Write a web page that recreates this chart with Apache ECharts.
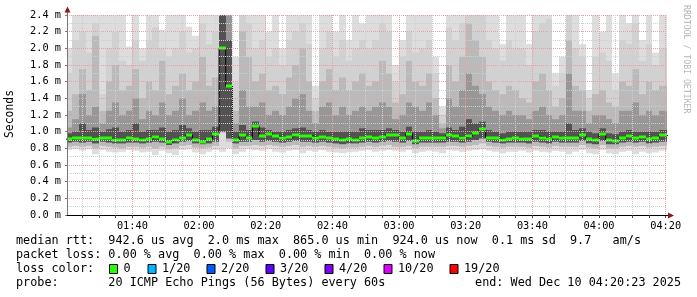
<!DOCTYPE html>
<html><head><meta charset="utf-8">
<script src="https://cdn.jsdelivr.net/npm/echarts@6/dist/echarts.min.js"></script>
<style>html,body{margin:0;padding:0;background:#fff}#c{width:697px;height:297px}</style>
</head><body><div id="c"></div>
<script>
// time: minutes after midnight; buckets of 2 minutes from 01:20
const startMinute = 80;
const stepMinutes = 2;
const axisMin = 80 + 23 / 60;   // 01:20:23
const axisMax = 260 + 23 / 60;  // 04:20:23

const xTickMinutes = [100, 120, 140, 160, 180, 200, 220, 240, 260];
const xTickLabels = ['01:40', '02:00', '02:20', '02:40', '03:00', '03:20', '03:40', '04:00', '04:20'];

// values in ms
const medianRtt = [0.91,0.924,0.93,0.93,0.916,0.924,0.92,0.90,0.905,0.92,
0.915,0.905,0.915,0.936,0.91,0.875,0.896,0.93,0.96,0.905,
0.88,0.91,0.975,2.0,1.55,0.905,0.955,0.93,1.07,0.95,
0.975,0.945,0.93,0.936,0.96,0.948,0.948,0.93,0.935,0.92,
0.916,0.9,0.912,0.905,0.93,0.935,0.928,0.935,0.964,0.955,
0.92,0.975,0.888,0.93,0.93,0.93,0.92,0.955,0.945,0.925,
0.945,0.99,1.028,0.93,0.926,0.905,0.916,0.925,0.916,0.91,
0.948,0.93,0.91,0.94,0.925,0.925,0.93,0.96,0.915,0.895,
0.975,0.895,0.89,0.93,0.95,0.92,0.94,0.915,0.924,0.955];

const pingMax = [2.0,2.4,2.4,2.4,2.4,2.4,2.4,2.4,2.4,2.02,
2.4,2.0,2.4,2.4,2.22,2.4,2.4,2.4,2.26,2.15,
2.4,2.4,2.4,2.4,2.4,1.9,2.4,2.4,2.4,2.4,
2.2,2.4,2.0,2.4,2.4,2.4,2.4,1.55,2.4,2.4,
2.2,2.4,2.1,2.4,2.3,2.4,2.4,2.4,2.4,1.8,
2.1,2.4,2.4,2.4,2.4,1.9,1.3,2.4,2.4,2.4,
2.4,2.4,2.4,2.4,2.4,2.05,2.4,2.4,2.4,2.05,
2.4,2.4,2.4,1.7,1.9,2.4,2.4,2.05,1.5,2.4,
2.2,2.4,1.7,2.4,2.3,2.4,2.1,2.4,1.95,2.4];

const pingUpper2 = [1.7,2.1,2.2,1.95,2.3,1.45,2.0,2.2,1.85,1.8,
2.1,1.85,2.1,2.25,2.0,1.9,2.0,2.2,1.95,2.0,
2.3,2.05,2.2,2.4,2.4,1.6,2.4,2.3,2.0,2.1,
1.9,2.0,1.8,2.1,2.2,2.3,2.05,1.4,2.0,2.2,
1.9,2.1,1.85,2.0,2.1,2.0,2.1,2.3,2.2,1.6,
1.9,2.2,1.95,2.0,2.1,1.7,1.2,2.25,2.1,2.3,
2.4,2.4,2.4,2.1,2.0,1.85,2.1,2.0,2.0,1.8,
2.2,2.3,2.35,1.55,1.7,2.4,2.0,1.9,1.4,1.9,
1.95,1.85,1.5,2.1,2.05,2.3,1.85,2.05,1.8,2.0];

const pingUpper3 = [1.25,1.45,1.75,1.5,2.15,1.25,1.6,1.8,1.5,1.55,
1.75,1.4,1.6,1.5,1.85,1.45,1.55,1.7,1.5,1.6,
1.9,1.55,1.65,2.4,2.4,1.25,2.2,1.9,1.6,1.7,
1.5,1.55,1.45,1.65,1.8,2.0,1.6,1.25,1.6,1.75,
1.5,1.65,1.5,1.6,1.7,1.55,1.6,1.85,1.7,1.35,
1.45,1.85,1.6,1.55,1.7,1.4,1.1,1.8,1.6,1.9,
2.3,2.1,1.9,1.6,1.5,1.45,1.55,1.5,1.4,1.35,
1.6,1.7,1.5,1.3,1.4,2.1,1.55,1.5,1.25,1.45,
1.5,1.35,1.3,1.6,1.55,1.75,1.45,1.6,1.5,1.55];

const pingUpper4 = [1.05,1.15,1.45,1.2,1.3,1.1,1.25,1.35,1.2,1.25,
1.4,1.15,1.25,1.2,1.35,1.2,1.25,1.4,1.2,1.25,
1.35,1.25,1.3,2.4,2.4,1.1,1.5,1.3,1.3,1.35,
1.2,1.25,1.2,1.3,1.4,1.45,1.25,1.1,1.3,1.35,
1.2,1.3,1.2,1.25,1.3,1.25,1.3,1.35,1.3,1.15,
1.2,1.35,1.3,1.25,1.35,1.2,1.04,1.4,1.3,1.5,
1.7,1.55,1.45,1.3,1.25,1.2,1.25,1.2,1.2,1.15,
1.25,1.3,1.2,1.15,1.2,1.7,1.25,1.25,1.1,1.2,
1.2,1.15,1.1,1.25,1.25,1.35,1.2,1.25,1.2,1.25];

const pingUpper5 = [0.98,1.0,1.1,1.02,1.05,1.0,1.03,1.05,1.0,1.02,
1.1,1.0,1.02,1.02,1.05,1.0,1.02,1.08,1.04,1.0,
1.02,1.02,1.06,2.4,2.1,1.0,1.08,1.02,1.12,1.05,
1.02,1.0,1.0,1.02,1.04,1.05,1.02,1.0,1.02,1.0,
1.0,1.0,1.0,1.0,1.04,1.02,1.02,1.02,1.04,1.02,
1.0,1.06,1.0,1.0,1.02,1.0,0.98,1.05,1.02,1.06,
1.15,1.1,1.12,1.02,1.0,0.98,1.0,1.0,1.0,1.0,
1.02,1.02,1.0,1.0,1.0,1.1,1.02,1.04,1.0,0.98,
1.04,0.98,0.97,1.0,1.02,1.0,1.0,1.0,1.0,1.02];

const pingLower3 = [0.87,0.88,0.87,0.88,0.86,0.88,0.87,0.86,0.86,0.87,
0.87,0.86,0.87,0.88,0.87,0.84,0.86,0.88,0.89,0.86,
0.85,0.86,0.88,1.0,0.92,0.86,0.88,0.88,0.9,0.88,
0.89,0.88,0.87,0.88,0.89,0.88,0.88,0.87,0.88,0.87,
0.86,0.85,0.86,0.86,0.87,0.88,0.87,0.88,0.89,0.88,
0.87,0.89,0.85,0.87,0.87,0.87,0.87,0.88,0.88,0.87,
0.88,0.9,0.92,0.88,0.87,0.86,0.87,0.87,0.87,0.86,
0.88,0.87,0.86,0.88,0.87,0.87,0.87,0.89,0.86,0.85,
0.89,0.85,0.85,0.87,0.88,0.87,0.88,0.86,0.87,0.88];

const pingLower2 = [0.82,0.83,0.82,0.83,0.8,0.83,0.82,0.81,0.8,0.82,
0.82,0.81,0.82,0.8,0.82,0.79,0.8,0.83,0.84,0.81,
0.8,0.81,0.83,0.99,0.88,0.8,0.83,0.83,0.84,0.83,
0.84,0.83,0.82,0.83,0.84,0.82,0.83,0.82,0.83,0.82,
0.81,0.8,0.81,0.81,0.82,0.83,0.82,0.83,0.84,0.82,
0.82,0.83,0.8,0.82,0.82,0.82,0.82,0.83,0.83,0.82,
0.83,0.84,0.86,0.83,0.82,0.81,0.82,0.82,0.82,0.81,
0.83,0.82,0.81,0.83,0.82,0.82,0.82,0.84,0.81,0.8,
0.84,0.8,0.8,0.82,0.83,0.82,0.83,0.81,0.82,0.83];

const pingMin = [0.78,0.79,0.77,0.79,0.73,0.78,0.76,0.75,0.76,0.78,
0.77,0.75,0.76,0.72,0.77,0.74,0.72,0.78,0.79,0.75,
0.73,0.76,0.78,0.76,0.8,0.73,0.76,0.79,0.78,0.77,
0.79,0.76,0.75,0.77,0.78,0.74,0.77,0.76,0.78,0.76,
0.75,0.74,0.75,0.76,0.77,0.78,0.76,0.77,0.78,0.77,
0.76,0.78,0.74,0.76,0.77,0.76,0.74,0.78,0.77,0.76,
0.77,0.78,0.79,0.77,0.76,0.74,0.76,0.76,0.77,0.75,
0.77,0.76,0.75,0.77,0.76,0.73,0.76,0.78,0.74,0.73,
0.78,0.74,0.73,0.76,0.77,0.73,0.76,0.74,0.75,0.77];

const lossLabels = ['0', '1/20', '2/20', '3/20', '4/20', '10/20', '19/20'];
const lossColors = ['#26ff00', '#00b8ff', '#0059ff', '#5e00ff', '#7e00ff', '#dd00ff', '#ff0000'];

const legendLines = [
  'median rtt:  942.6 us avg  2.0 ms max  865.0 us min  924.0 us now  0.1 ms sd  9.7   am/s',
  'packet loss: 0.00 % avg  0.00 % max  0.00 % min  0.00 % now',
  'loss color:',
  'probe:       20 ICMP Echo Pings (56 Bytes) every 60s'
];
const endLabel = 'end: Wed Dec 10 04:20:23 2025';

// ---- build tables ----
const layerColors = ['#dddddd', '#d1d1d1', '#bababa', '#979797', '#525252'];
const smokeData = medianRtt.map((m, k) => {
  const t0 = startMinute + k * stepMinutes;
  const t1 = k === medianRtt.length - 1 ? axisMax + 1 : t0 + stepMinutes;
  return [t0, t1,
    pingMin[k], pingMax[k],
    pingLower2[k], pingUpper2[k],
    pingLower2[k], pingUpper3[k],
    pingLower3[k], pingUpper4[k],
    pingLower3[k], pingUpper5[k]];
});
const medianData = medianRtt.map((m, k) => {
  const t0 = startMinute + k * stepMinutes;
  const t1 = k === medianRtt.length - 1 ? axisMax + 1 : t0 + stepMinutes;
  return [t0, t1, m];
});
const stepLine = medianRtt.map((m, k) => [startMinute + k * stepMinutes, m]);
stepLine.push([axisMax + 1, medianRtt[medianRtt.length - 1]]);

const minorTicks = [];
for (let t = 85; t <= 260; t += 5) minorTicks.push(t);

function clampX(x, cs) { return Math.max(cs.x, Math.min(cs.x + cs.width, x)); }

function renderSmoke(params, api) {
  const cs = params.coordSys;
  const x0 = Math.round(clampX(api.coord([api.value(0), 0])[0], cs));
  const x1 = Math.round(clampX(api.coord([api.value(1), 0])[0], cs));
  const children = [];
  for (let i = 0; i < layerColors.length; i++) {
    const lo = api.value(2 + 2 * i), hi = api.value(3 + 2 * i);
    const yTop = api.coord([0, Math.min(hi, 2.4)])[1];
    const yBot = api.coord([0, lo])[1];
    children.push({type: 'rect', shape: {x: x0, y: yTop, width: x1 - x0, height: yBot - yTop},
      style: {fill: layerColors[i]}});
  }
  return {type: 'group', children};
}
function renderMedian(params, api) {
  const cs = params.coordSys;
  const x0 = Math.round(clampX(api.coord([api.value(0), 0])[0], cs));
  const x1 = Math.round(clampX(api.coord([api.value(1), 0])[0], cs));
  const y = api.coord([0, api.value(2)])[1];
  return {type: 'rect', shape: {x: x0, y: Math.round(y) - 1.5, width: x1 - x0, height: 3},
    style: {fill: lossColors[0]}};
}

const chart = echarts.init(document.getElementById('c'), null, {renderer: 'canvas'});
const monoSmall = '"DejaVu Sans Mono", monospace';
const legendFont = '11.8px "DejaVu Sans Mono", monospace';

const graphics = [];
// axis arrows
graphics.push({type: 'line', shape: {x1: 67.5, y1: 15, x2: 67.5, y2: 11}, style: {stroke: '#777', lineWidth: 1}, z: 20});
graphics.push({type: 'polygon', shape: {points: [[64.5, 12.5], [70.5, 12.5], [67.5, 6.5]]}, style: {fill: '#8b1a1a'}, z: 20});
graphics.push({type: 'line', shape: {x1: 665, y1: 215.5, x2: 669, y2: 215.5}, style: {stroke: '#000', lineWidth: 1}, z: 20});
graphics.push({type: 'polygon', shape: {points: [[668, 212.5], [668, 218.5], [674, 215.5]]}, style: {fill: '#8b1a1a'}, z: 20});
// y axis title
graphics.push({type: 'text', x: 10, y: 114, rotation: Math.PI / 2,
  style: {text: 'Seconds', font: '11.4px "DejaVu Sans Mono", monospace', fill: '#000', align: 'center', verticalAlign: 'middle'}});
// watermark
graphics.push({type: 'text', x: 686, y: 5, rotation: -Math.PI / 2,
  style: {text: 'RRDTOOL / TOBI OETIKER', font: '8.2px "DejaVu Sans Mono", monospace', fill: '#b5b5b5', align: 'left', verticalAlign: 'middle'}});
// legend lines
const lineY = [241, 255, 269, 283];
legendLines.forEach((t, i) => {
  graphics.push({type: 'text', x: 16, y: lineY[i],
    style: {text: t, font: legendFont, fill: '#000', align: 'left', verticalAlign: 'middle'}});
});
graphics.push({type: 'text', x: 681, y: lineY[3],
  style: {text: endLabel, font: legendFont, fill: '#000', align: 'right', verticalAlign: 'middle'}});
// loss color boxes
const boxX = [109, 147.5, 206.5, 265.5, 324.5, 383.5, 449.5];
lossLabels.forEach((lab, i) => {
  graphics.push({type: 'rect', shape: {x: boxX[i] + 0.5, y: 264.5, width: 8, height: 9},
    style: {fill: lossColors[i], stroke: '#000', lineWidth: 1}});
  graphics.push({type: 'text', x: boxX[i] + 14.5, y: lineY[2],
    style: {text: lab, font: legendFont, fill: '#000', align: 'left', verticalAlign: 'middle'}});
});

chart.setOption({
  animation: false,
  backgroundColor: '#ffffff',
  grid: {left: 67, right: 30, top: 15, bottom: 82, containLabel: false, outerBoundsMode: 'none'},
  xAxis: {
    type: 'value', min: axisMin, max: axisMax, z: 5,
    axisLine: {show: true, lineStyle: {color: '#000', width: 1}},
    axisTick: {show: true, customValues: minorTicks, length: 3, lineStyle: {color: '#444'}},
    axisLabel: {customValues: xTickMinutes, margin: 6, color: '#000',
      fontFamily: monoSmall, fontSize: 10.3,
      formatter: v => { const i = xTickMinutes.indexOf(Math.round(v)); return i >= 0 ? xTickLabels[i] : ''; }},
    splitLine: {show: true, lineStyle: {color: ['#cfcfcf', '#cfcfcf', '#cfcfcf', '#e8a0a0'], type: [1, 1], width: 1}}
  },
  yAxis: {
    type: 'value', min: 0, max: 2.4, interval: 0.2, z: 5,
    axisLine: {show: true, lineStyle: {color: '#777', width: 1}},
    axisTick: {show: true, length: 2, lineStyle: {color: '#777'}},
    axisLabel: {margin: 6, color: '#000', fontFamily: monoSmall, fontSize: 10.3,
      formatter: v => v.toFixed(1) + ' m'},
    splitLine: {show: true, lineStyle: {color: '#e8a0a0', type: [1, 1], width: 1}},
    minorTick: {show: false, splitNumber: 2},
    minorSplitLine: {show: true, lineStyle: {color: '#cfcfcf', type: [1, 1], width: 1}}
  },
  graphic: graphics,
  series: [
    {type: 'custom', name: 'smoke', renderItem: renderSmoke, data: smokeData, z: 1,
      encode: {x: [0, 1], y: [2, 3]}, silent: true},
    {type: 'line', name: 'median-step', data: stepLine, step: 'end', symbol: 'none', z: 2,
      lineStyle: {color: '#000', width: 1}, silent: true},
    {type: 'custom', name: 'median', renderItem: renderMedian, data: medianData, z: 3,
      encode: {x: [0, 1], y: 2}, silent: true}
  ]
});
</script></body></html>
